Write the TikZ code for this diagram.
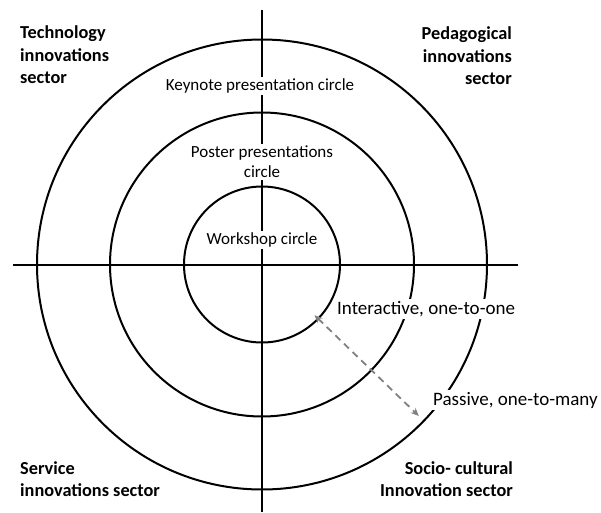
\documentclass[tikz,border=0pt]{standalone}
\usepackage{fontspec}
\setmainfont{Carlito}
\usetikzlibrary{arrows.meta}

\begin{document}
\begin{tikzpicture}[x=1pt,y=1pt,
    ring/.style={line width=2pt},
    lbl/.style={fill=white, inner sep=2pt, font=\fontsize{17}{20}\selectfont, align=center},
    side/.style={fill=white, inner sep=2pt, font=\fontsize{19}{22}\selectfont},
    sector/.style={inner sep=0pt, font=\bfseries\fontsize{18.3}{22.5}\selectfont}]
    \useasboundingbox (-262,-247.5) rectangle (339,264.5);
    % axes and the three circles
    \draw[ring] (-249,0) -- (256,0);
    \draw[ring] (0,254) -- (0,-247.5);
    \draw[ring] (0,0) circle (78);
    \draw[ring] (0,0) circle (152);
    \draw[ring] (0,0) circle (225);
    % circle labels
    \node[lbl] (keynote) at (-2,178.5) {Keynote presentation circle};
    \node[lbl] (poster) at (0,102.5) {Poster presentations\\circle};
    \node[lbl] (workshop) at (0,24.5) {Workshop circle};
    \node[side, anchor=west] (inter) at (73,-44.5) {Interactive, one-to-one};
    \node[side, anchor=west] (passive) at (169,-135.5) {Passive, one-to-many};
    % sectors
    \node[sector, align=left, anchor=west] (tech) at (-242,209.5) {Technology\\innovations\\sector};
    \node[sector, align=right, anchor=east] (peda) at (250,208.5) {Pedagogical\\innovations\\sector};
    \node[sector, align=left, anchor=west] (serv) at (-242,-214.5) {Service\\innovations sector};
    \node[sector, align=right, anchor=east] (socio) at (251,-214.5) {Socio- cultural\\Innovation sector};
    % from one-to-one to one-to-many
    \coordinate (near) at (-44:73);
    \coordinate (far) at (-44:218);
    \draw[gray, line width=1.8pt, dash pattern=on 7pt off 5pt,
          {Stealth[length=8pt,width=7pt]}-{Stealth[length=8pt,width=7pt]}] (near) -- (far);
\end{tikzpicture}
\end{document}
